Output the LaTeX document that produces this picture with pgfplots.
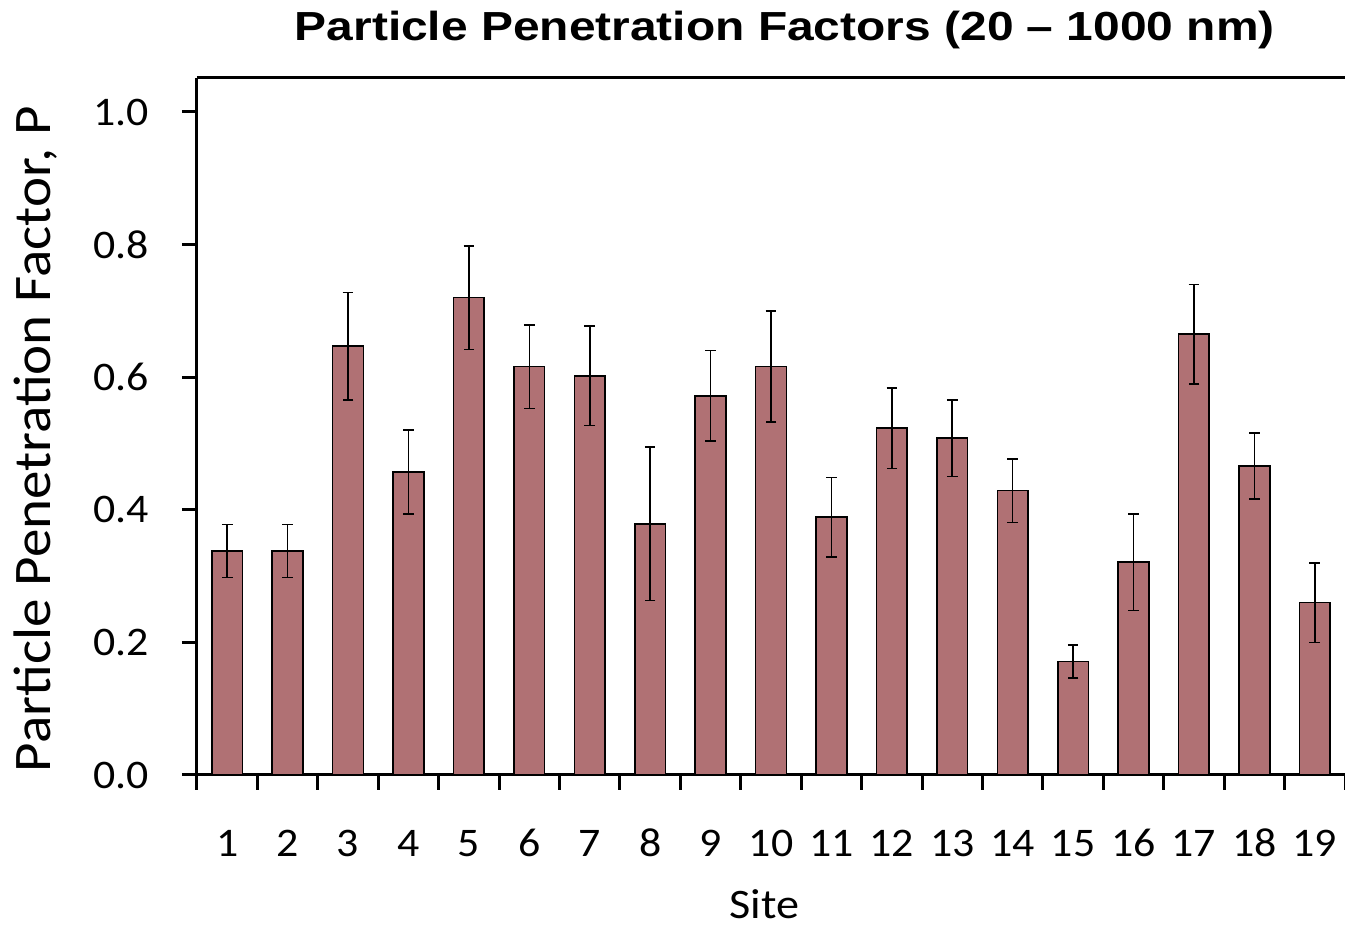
\documentclass[border=0pt]{standalone}
\usepackage{pgfplots}
\pgfplotsset{compat=1.18}
\usepackage{fontspec}
\setmainfont{Carlito}
\newfontfamily\titlefont{Liberation Sans}[FakeStretch=1.18]
\newfontfamily\ylabfont{Carlito}[FakeStretch=1.08]
\newfontfamily\xlabfont{Carlito}[FakeStretch=1.1]
\newfontfamily\tickfont{Carlito}[FakeStretch=1.08]
\definecolor{barfill}{RGB}{176,113,116}
\pgfplotstableread{
x  y      e
1  0.338  0.040
2  0.338  0.040
3  0.647  0.081
4  0.457  0.063
5  0.720  0.078
6  0.616  0.063
7  0.602  0.075
8  0.379  0.116
9  0.572  0.068
10 0.616  0.084
11 0.389  0.060
12 0.523  0.061
13 0.508  0.058
14 0.429  0.048
15 0.171  0.025
16 0.321  0.073
17 0.665  0.075
18 0.466  0.050
19 0.260  0.060
}\datatable
\begin{document}
\begin{tikzpicture}
\begin{axis}[
  scale only axis,
  width=574pt, height=348.5pt,
  xmin=0.5, xmax=19.5,
  ymin=0, ymax=1.0513,
  axis x line*=bottom,
  axis y line*=left,
  axis line style={line width=1.5pt, -},
  tick align=outside,
  major tick length=7.5pt,
  tick style={line width=1.5pt, black},
  xtick={0.5,1.5,...,19.5},
  xticklabels={},
  extra x ticks={1,2,...,19},
  extra x tick labels={1,2,3,4,5,6,7,8,9,10,11,12,13,14,15,16,17,18,19},
  extra x tick style={major tick length=0pt, tick label style={anchor=base, yshift=-41pt}},
  ytick={0,0.2,...,1.0},
  /pgf/number format/fixed,
  /pgf/number format/fixed zerofill,
  /pgf/number format/precision=1,
  /pgf/number format/assume math mode=true,
  yticklabel style={xshift=-13pt},
  ticklabel style={font=\tickfont\fontsize{20.3}{24}\selectfont},
  xlabel={Site},
  xlabel style={at={(axis description cs:0.4945,-0.1855)}, anchor=center, inner sep=0pt, font=\xlabfont\fontsize{21}{25}\selectfont},
  ylabel={Particle Penetration Factor, P},
  ylabel style={at={(axis description cs:-0.141,0.482)}, anchor=center, inner sep=0pt, font=\ylabfont\fontsize{26.4}{30}\selectfont},
  title={Particle Penetration Factors (20 – 1000 nm)},
  title style={at={(axis description cs:0.512,1.052)}, anchor=center, inner sep=0pt, font=\titlefont\bfseries\fontsize{20.3}{24}\selectfont},
  clip=false,
]
\addplot[ybar, bar width=15.35pt, fill=barfill, draw=black, line width=0.8pt,
  error bars/.cd, y dir=both, y explicit,
  error bar style={line width=0.8pt, black},
  error mark options={rotate=90, mark size=2.67pt, line width=0.8pt, black}]
  table[x=x, y=y, y error=e] {\datatable};
\draw[line width=1.5pt] (rel axis cs:0,1) -- (rel axis cs:1,1);
\end{axis}
\pgfresetboundingbox
\path[use as bounding box] (-98.5pt,-77.5pt) rectangle (574pt,387.5pt);
\end{tikzpicture}
\end{document}
